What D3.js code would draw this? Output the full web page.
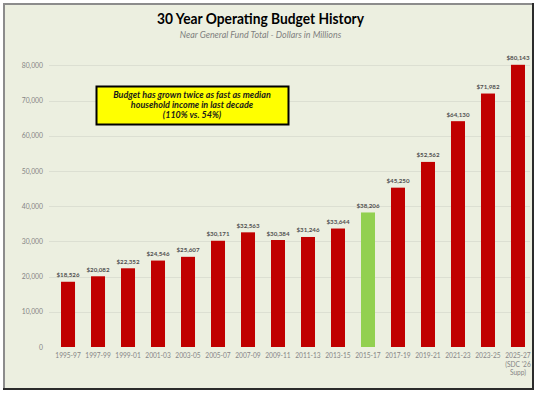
<!DOCTYPE html>
<html><head><meta charset="utf-8">
<script src="https://cdn.jsdelivr.net/npm/d3@7"></script>
<style>
html,body{margin:0;padding:0;background:#fff;}
svg{display:block;}
</style></head>
<body>
<svg id="chart" width="539" height="394"></svg>
<script>
const categories = ["1995-97","1997-99","1999-01","2001-03","2003-05","2005-07","2007-09","2009-11","2011-13","2013-15","2015-17","2017-19","2019-21","2021-23","2023-25","2025-27\n(SDC '26\nSupp)"];
const values = [18526,20082,22352,24546,25607,30171,32563,30384,31246,33644,38206,45250,52562,64130,71982,80143];
const highlight = ["2015-17"];
const yTicks = [0,10000,20000,30000,40000,50000,60000,70000,80000];
const title = "30 Year Operating Budget History";
const subtitle = "Near General Fund Total - Dollars in Millions";
const callout = ["Budget has grown twice as fast as median","household income in last decade","(110% vs. 54%)"];

const svg = d3.select("#chart");
const font = "Lato, 'Open Sans', sans-serif";

// frame
svg.append("rect").attr("x",3).attr("y",3).attr("width",531).attr("height",387).attr("fill","#ecefe0");
svg.append("line").attr("x1",4).attr("x2",4).attr("y1",3).attr("y2",390).attr("stroke","#8c8c8c").attr("stroke-width",2);
svg.append("line").attr("x1",3).attr("x2",534).attr("y1",4).attr("y2",4).attr("stroke","#8c8c8c").attr("stroke-width",2);
svg.append("line").attr("x1",533).attr("x2",533).attr("y1",3).attr("y2",390).attr("stroke","#2b2b2b").attr("stroke-width",2);
svg.append("line").attr("x1",3).attr("x2",534).attr("y1",389).attr("y2",389).attr("stroke","#2b2b2b").attr("stroke-width",2);

const x = d3.scaleBand().domain(categories).range([53,533]).paddingInner(0.533).paddingOuter(0.267);
const y = d3.scaleLinear().domain([0,80000]).range([347,65.3]);

// gridlines
svg.append("g").selectAll("line").data(yTicks.filter(d=>d>0)).join("line")
  .attr("x1",49).attr("x2",530).attr("y1",d=>Math.round(y(d))+0.5).attr("y2",d=>Math.round(y(d))+0.5)
  .attr("stroke","#dcdfd2").attr("stroke-width",1);

// y axis
const yAxis = d3.axisLeft(y).tickValues(yTicks).tickSize(0).tickPadding(0).tickFormat(d3.format(","));
const gy = svg.append("g").attr("transform","translate(43,0)").call(yAxis);
gy.select(".domain").remove();
gy.selectAll("text").attr("fill","#858585").attr("font-size","6.8px").attr("font-family",font);

// bars
svg.append("g").selectAll("rect").data(values).join("rect")
  .attr("x",(d,i)=>x(categories[i]))
  .attr("width",x.bandwidth())
  .attr("y",d=>y(d))
  .attr("height",d=>y(0)-y(d))
  .attr("fill",(d,i)=>highlight.includes(categories[i])?"#92d050":"#c00000");

// value labels
svg.append("g").selectAll("text").data(values).join("text")
  .attr("x",(d,i)=>x(categories[i])+x.bandwidth()/2)
  .attr("y",d=>y(d)-4.5)
  .attr("text-anchor","middle")
  .attr("font-family",font).attr("font-weight","bold").attr("font-size","6.2px")
  .attr("fill","#505050")
  .text(d=>"$"+d3.format(",")(d));

// x axis
const xAxis = d3.axisBottom(x).tickSize(0).tickPadding(0);
const gx = svg.append("g").attr("transform","translate(0,347)").call(xAxis);
gx.select(".domain").remove();
gx.selectAll("text").each(function(d){
  const t = d3.select(this);
  const lines = d.split("\n");
  t.text(null).attr("y",0).attr("dy",null)
   .attr("fill","#858585").attr("font-size","6.6px").attr("font-family",font);
  lines.forEach((l,i)=>t.append("tspan").attr("x",0).attr("y",11+i*8.5).text(l));
});

// titles
svg.append("text").attr("x",260.5).attr("y",24).attr("text-anchor","middle")
  .attr("font-family",font).attr("font-weight","bold").attr("font-size","15.5px").attr("fill","#000")
  .attr("textLength",207).attr("lengthAdjust","spacingAndGlyphs")
  .text(title);
svg.append("text").attr("x",260.5).attr("y",38).attr("text-anchor","middle")
  .attr("font-family",font).attr("font-style","italic").attr("font-size","8.9px").attr("fill","#7f7f7f")
  .text(subtitle);

// callout
svg.append("rect").attr("x",96.5).attr("y",86.5).attr("width",192).attr("height",38)
  .attr("fill","#ffff00").attr("stroke","#000").attr("stroke-width",2);
svg.append("g").selectAll("text").data(callout).join("text")
  .attr("x",192).attr("y",(d,i)=>98+i*10)
  .attr("text-anchor","middle").attr("font-family",font).attr("font-weight","bold").attr("font-style","italic")
  .attr("font-size","9px").attr("fill","#1a1a1a")
  .text(d=>d);
</script>
</body></html>
